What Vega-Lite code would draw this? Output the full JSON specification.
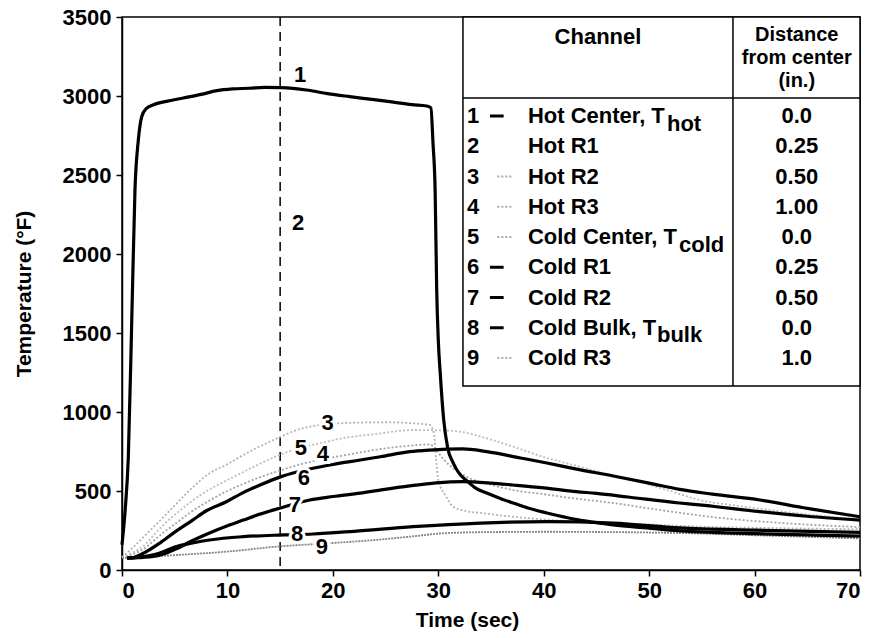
{
  "$schema": "https://vega.github.io/schema/vega-lite/v6.json",
  "width": 738,
  "height": 553,
  "autosize": {"type": "none"},
  "padding": {"left": 122, "top": 17, "right": 14, "bottom": 68},
  "background": "white",
  "config": {
    "font": "Liberation Sans",
    "view": {"stroke": "black", "strokeWidth": 1.5},
    "axis": {
      "grid": false,
      "domainColor": "black",
      "domainWidth": 1.5,
      "tickColor": "black",
      "tickWidth": 1.5,
      "tickSize": 6,
      "labelFont": "Liberation Sans",
      "labelFontSize": 22,
      "labelFontWeight": "bold",
      "labelColor": "black",
      "titleFont": "Liberation Sans",
      "titleFontSize": 21,
      "titleFontWeight": "bold",
      "titleColor": "black"
    }
  },
  "datasets": {
    "one": [{}],
    "curves": [
      {"ch":"1","t":0,"T":160},{"ch":"1","t":0.3,"T":380},{"ch":"1","t":0.6,"T":717},{"ch":"1","t":0.92,"T":1563},{"ch":"1","t":1.23,"T":2405},{"ch":"1","t":1.55,"T":2722},{"ch":"1","t":1.87,"T":2869},{"ch":"1","t":2.3,"T":2920},{"ch":"1","t":3,"T":2945},{"ch":"1","t":4.5,"T":2970},{"ch":"1","t":5.8,"T":2987},{"ch":"1","t":7.5,"T":3010},{"ch":"1","t":9,"T":3034},{"ch":"1","t":10.5,"T":3045},{"ch":"1","t":12.1,"T":3049},{"ch":"1","t":13.5,"T":3055},{"ch":"1","t":15.1,"T":3053},{"ch":"1","t":17.5,"T":3038},{"ch":"1","t":19.5,"T":3015},{"ch":"1","t":21.6,"T":2996},{"ch":"1","t":23.5,"T":2980},{"ch":"1","t":25.4,"T":2964},{"ch":"1","t":27.5,"T":2945},{"ch":"1","t":28.9,"T":2937},{"ch":"1","t":29.3,"T":2925},{"ch":"1","t":29.5,"T":2700},{"ch":"1","t":29.7,"T":2405},{"ch":"1","t":29.85,"T":1772},{"ch":"1","t":30,"T":1456},{"ch":"1","t":30.2,"T":1230},{"ch":"1","t":30.5,"T":960},{"ch":"1","t":30.9,"T":770},{"ch":"1","t":31.4,"T":680},{"ch":"1","t":32,"T":610},{"ch":"1","t":32.7,"T":565},{"ch":"1","t":33.5,"T":520},{"ch":"1","t":34.6,"T":487},{"ch":"1","t":36,"T":450},{"ch":"1","t":37.1,"T":424},{"ch":"1","t":38.5,"T":392},{"ch":"1","t":40.3,"T":361},{"ch":"1","t":42,"T":335},{"ch":"1","t":43.4,"T":316},{"ch":"1","t":45,"T":300},{"ch":"1","t":46.6,"T":285},{"ch":"1","t":49.8,"T":266},{"ch":"1","t":52.9,"T":248},{"ch":"1","t":56,"T":238},{"ch":"1","t":60,"T":230},{"ch":"1","t":65,"T":222},{"ch":"1","t":70,"T":215},
      {"ch":"3","t":0,"T":80},{"ch":"3","t":1,"T":140},{"ch":"3","t":2.7,"T":253},{"ch":"3","t":4,"T":340},{"ch":"3","t":5.2,"T":422},{"ch":"3","t":6.5,"T":510},{"ch":"3","t":8.3,"T":612},{"ch":"3","t":10,"T":670},{"ch":"3","t":11.5,"T":728},{"ch":"3","t":13,"T":780},{"ch":"3","t":14.7,"T":833},{"ch":"3","t":16.6,"T":886},{"ch":"3","t":18.5,"T":915},{"ch":"3","t":21,"T":930},{"ch":"3","t":25,"T":935},{"ch":"3","t":27.3,"T":930},{"ch":"3","t":29.2,"T":918},{"ch":"3","t":29.6,"T":860},{"ch":"3","t":29.8,"T":700},{"ch":"3","t":30,"T":570},{"ch":"3","t":30.7,"T":470},{"ch":"3","t":31.4,"T":401},{"ch":"3","t":32.5,"T":375},{"ch":"3","t":34,"T":361},{"ch":"3","t":37.1,"T":337},{"ch":"3","t":40,"T":320},{"ch":"3","t":45,"T":300},{"ch":"3","t":50,"T":288},{"ch":"3","t":55,"T":274},{"ch":"3","t":62,"T":265},{"ch":"3","t":70,"T":258},
      {"ch":"4","t":0,"T":78},{"ch":"4","t":1,"T":100},{"ch":"4","t":2,"T":130},{"ch":"4","t":3,"T":185},{"ch":"4","t":4,"T":240},{"ch":"4","t":5.2,"T":300},{"ch":"4","t":6.5,"T":365},{"ch":"4","t":8.3,"T":440},{"ch":"4","t":10,"T":500},{"ch":"4","t":11.5,"T":545},{"ch":"4","t":13,"T":585},{"ch":"4","t":15,"T":630},{"ch":"4","t":17,"T":670},{"ch":"4","t":19,"T":700},{"ch":"4","t":21,"T":725},{"ch":"4","t":24,"T":760},{"ch":"4","t":27,"T":785},{"ch":"4","t":29.2,"T":795},{"ch":"4","t":29.8,"T":760},{"ch":"4","t":30.5,"T":700},{"ch":"4","t":31.5,"T":640},{"ch":"4","t":33,"T":580},{"ch":"4","t":35,"T":540},{"ch":"4","t":37.1,"T":506},{"ch":"4","t":40,"T":480},{"ch":"4","t":43,"T":452},{"ch":"4","t":46.6,"T":424},{"ch":"4","t":50,"T":390},{"ch":"4","t":53,"T":361},{"ch":"4","t":56,"T":335},{"ch":"4","t":62,"T":300},{"ch":"4","t":70,"T":272},
      {"ch":"5","t":0,"T":80},{"ch":"5","t":1,"T":110},{"ch":"5","t":2,"T":150},{"ch":"5","t":3,"T":220},{"ch":"5","t":4,"T":290},{"ch":"5","t":5.2,"T":360},{"ch":"5","t":6.5,"T":430},{"ch":"5","t":8.3,"T":510},{"ch":"5","t":10,"T":570},{"ch":"5","t":11.5,"T":620},{"ch":"5","t":13,"T":670},{"ch":"5","t":15,"T":730},{"ch":"5","t":17,"T":775},{"ch":"5","t":19,"T":805},{"ch":"5","t":21,"T":835},{"ch":"5","t":24,"T":860},{"ch":"5","t":27.6,"T":886},{"ch":"5","t":30,"T":884},{"ch":"5","t":32,"T":876},{"ch":"5","t":34.5,"T":835},{"ch":"5","t":37.1,"T":781},{"ch":"5","t":40,"T":715},{"ch":"5","t":43.4,"T":654},{"ch":"5","t":47,"T":590},{"ch":"5","t":50,"T":540},{"ch":"5","t":52,"T":500},{"ch":"5","t":54.8,"T":443},{"ch":"5","t":58,"T":410},{"ch":"5","t":62,"T":375},{"ch":"5","t":66,"T":345},{"ch":"5","t":70,"T":320},
      {"ch":"6","t":0.5,"T":75},{"ch":"6","t":1,"T":78},{"ch":"6","t":2,"T":105},{"ch":"6","t":3.6,"T":171},{"ch":"6","t":5,"T":240},{"ch":"6","t":6.7,"T":316},{"ch":"6","t":8,"T":375},{"ch":"6","t":9.9,"T":432},{"ch":"6","t":11.5,"T":490},{"ch":"6","t":13.1,"T":538},{"ch":"6","t":15.1,"T":591},{"ch":"6","t":17.8,"T":639},{"ch":"6","t":20,"T":668},{"ch":"6","t":22.6,"T":696},{"ch":"6","t":24.5,"T":717},{"ch":"6","t":27.3,"T":749},{"ch":"6","t":29.2,"T":759},{"ch":"6","t":32.3,"T":766},{"ch":"6","t":34.6,"T":749},{"ch":"6","t":37.8,"T":709},{"ch":"6","t":40.3,"T":677},{"ch":"6","t":43,"T":640},{"ch":"6","t":46.6,"T":595},{"ch":"6","t":50,"T":550},{"ch":"6","t":52.9,"T":510},{"ch":"6","t":56,"T":480},{"ch":"6","t":60.5,"T":443},{"ch":"6","t":65,"T":390},{"ch":"6","t":70,"T":337},
      {"ch":"7","t":0.5,"T":75},{"ch":"7","t":1,"T":77},{"ch":"7","t":2,"T":80},{"ch":"7","t":3.5,"T":92},{"ch":"7","t":5.2,"T":135},{"ch":"7","t":6.5,"T":180},{"ch":"7","t":8.3,"T":234},{"ch":"7","t":10,"T":280},{"ch":"7","t":11.5,"T":316},{"ch":"7","t":13,"T":352},{"ch":"7","t":15,"T":392},{"ch":"7","t":17.8,"T":443},{"ch":"7","t":20,"T":465},{"ch":"7","t":22.6,"T":487},{"ch":"7","t":24.5,"T":506},{"ch":"7","t":27.3,"T":532},{"ch":"7","t":29.8,"T":551},{"ch":"7","t":32.3,"T":559},{"ch":"7","t":35,"T":550},{"ch":"7","t":37.1,"T":538},{"ch":"7","t":40,"T":520},{"ch":"7","t":43.1,"T":496},{"ch":"7","t":45,"T":485},{"ch":"7","t":48,"T":462},{"ch":"7","t":52.9,"T":424},{"ch":"7","t":55,"T":411},{"ch":"7","t":60.5,"T":369},{"ch":"7","t":65,"T":340},{"ch":"7","t":70,"T":316},
      {"ch":"8","t":0.5,"T":75},{"ch":"8","t":1.5,"T":80},{"ch":"8","t":2.5,"T":90},{"ch":"8","t":3.6,"T":108},{"ch":"8","t":5,"T":145},{"ch":"8","t":6.7,"T":171},{"ch":"8","t":8.3,"T":190},{"ch":"8","t":11.5,"T":211},{"ch":"8","t":15.3,"T":222},{"ch":"8","t":18.1,"T":228},{"ch":"8","t":22,"T":245},{"ch":"8","t":27.6,"T":274},{"ch":"8","t":34,"T":297},{"ch":"8","t":40.3,"T":306},{"ch":"8","t":46.6,"T":297},{"ch":"8","t":52.9,"T":266},{"ch":"8","t":60,"T":252},{"ch":"8","t":70,"T":238},
      {"ch":"9","t":0,"T":76},{"ch":"9","t":2,"T":82},{"ch":"9","t":5.2,"T":95},{"ch":"9","t":9.9,"T":116},{"ch":"9","t":14.7,"T":148},{"ch":"9","t":20,"T":171},{"ch":"9","t":24,"T":190},{"ch":"9","t":27.3,"T":211},{"ch":"9","t":30.8,"T":234},{"ch":"9","t":35,"T":240},{"ch":"9","t":40.3,"T":242},{"ch":"9","t":46,"T":240},{"ch":"9","t":52.9,"T":234},{"ch":"9","t":60,"T":220},{"ch":"9","t":70,"T":200}
    ],
    "labels": [
      {"lab":"1","t":16.9,"T":3133},
      {"lab":"2","t":16.7,"T":2196},
      {"lab":"3","t":19.5,"T":930},
      {"lab":"5","t":16.96,"T":772},
      {"lab":"4","t":19.06,"T":734},
      {"lab":"6","t":17.26,"T":582},
      {"lab":"7","t":16.4,"T":411},
      {"lab":"8","t":16.6,"T":228},
      {"lab":"9","t":18.97,"T":146}
    ],
    "table": [
      {"num":"1","name":"Hot Center, T","dist":"0.0","row":1},
      {"num":"2","name":"Hot R1","dist":"0.25","row":2},
      {"num":"3","name":"Hot R2","dist":"0.50","row":3},
      {"num":"4","name":"Hot R3","dist":"1.00","row":4},
      {"num":"5","name":"Cold Center, T","dist":"0.0","row":5},
      {"num":"6","name":"Cold R1","dist":"0.25","row":6},
      {"num":"7","name":"Cold R2","dist":"0.50","row":7},
      {"num":"8","name":"Cold Bulk, T","dist":"0.0","row":8},
      {"num":"9","name":"Cold R3","dist":"1.0","row":9}
    ]
  },
  "layer": [
    {
      "layer": [
        {
          "data": {"name": "one"},
          "mark": {"type": "rule", "color": "black", "strokeWidth": 1.5, "strokeDash": [9, 6]},
          "encoding": {"x": {"datum": 15, "type": "quantitative", "scale": {"domain": [0, 70], "nice": false}}}
        },
        {
          "data": {"name": "curves"},
          "transform": [{"filter": "datum.ch=='3' || datum.ch=='4' || datum.ch=='5' || datum.ch=='9'"}],
          "mark": {"type": "line", "strokeWidth": 1.8, "interpolate": "monotone"},
          "encoding": {
            "x": {"field": "t", "type": "quantitative", "scale": {"domain": [0, 70], "nice": false},
                  "axis": {"values": [0,10,20,30,40,50,60,70], "title": "Time (sec)", "titlePadding": 8, "titleX": 345, "labelPadding": 4}},
            "y": {"field": "T", "type": "quantitative", "scale": {"domain": [0, 3500], "nice": false},
                  "axis": {"values": [0,500,1000,1500,2000,2500,3000,3500], "format": "d", "title": "Temperature (°F)", "titlePadding": 28, "labelPadding": 5}},
            "detail": {"field": "ch"},
            "color": {"field": "ch", "type": "nominal", "legend": null,
                      "scale": {"domain": ["3","4","5","9"], "range": ["#b4b4b4", "#a4a4a4", "#bdbdbd", "#858585"]}},
            "strokeDash": {"field": "ch", "type": "nominal", "legend": null,
                      "scale": {"domain": ["3","4","5","9"], "range": [[2,2],[2,2],[2,2],[2,1]]}}
          }
        },
        {
          "data": {"name": "curves"},
          "transform": [{"filter": "datum.ch=='1' || datum.ch=='6' || datum.ch=='7' || datum.ch=='8'"}],
          "mark": {"type": "line", "strokeWidth": 3.2, "color": "black", "interpolate": "monotone"},
          "encoding": {
            "x": {"field": "t", "type": "quantitative"},
            "y": {"field": "T", "type": "quantitative"},
            "detail": {"field": "ch"}
          }
        },
        {
          "data": {"name": "labels"},
          "mark": {"type": "text", "fontSize": 22, "fontWeight": "bold", "font": "Liberation Sans", "stroke": "white", "strokeWidth": 6, "fill": "white"},
          "encoding": {
            "x": {"field": "t", "type": "quantitative"},
            "y": {"field": "T", "type": "quantitative"},
            "text": {"field": "lab"}
          }
        },
        {
          "data": {"name": "labels"},
          "mark": {"type": "text", "fontSize": 22, "fontWeight": "bold", "font": "Liberation Sans", "color": "black"},
          "encoding": {
            "x": {"field": "t", "type": "quantitative"},
            "y": {"field": "T", "type": "quantitative"},
            "text": {"field": "lab"}
          }
        }
      ]
    },
    {
      "data": {"name": "table"},
      "layer": [
        {
          "data": {"name": "one"},
          "mark": {"type": "rect", "fill": "white", "stroke": "black", "strokeWidth": 1.5},
          "encoding": {
            "x": {"datum": 32.34, "type": "quantitative"},
            "x2": {"datum": 70},
            "y": {"datum": -2.273, "type": "quantitative", "axis": null, "scale": {"domain": [-2.273, 16.008], "reverse": true, "nice": false, "zero": false}},
            "y2": {"datum": 9.925}
          }
        },
        {
          "data": {"name": "one"},
          "mark": {"type": "rule", "color": "black", "strokeWidth": 1.5},
          "encoding": {
            "x": {"datum": 57.95, "type": "quantitative"},
            "y": {"datum": -2.273, "type": "quantitative", "axis": null},
            "y2": {"datum": 9.925}
          }
        },
        {
          "data": {"name": "one"},
          "mark": {"type": "rule", "color": "black", "strokeWidth": 1.5},
          "encoding": {
            "x": {"datum": 32.34, "type": "quantitative"},
            "x2": {"datum": 70},
            "y": {"datum": 0.405, "type": "quantitative", "axis": null}
          }
        },
        {
          "data": {"name": "one"},
          "mark": {"type": "text", "fontSize": 22, "fontWeight": "bold", "font": "Liberation Sans", "color": "black", "baseline": "middle", "text": "Channel"},
          "encoding": {"x": {"datum": 45.15, "type": "quantitative"}, "y": {"datum": -1.612, "type": "quantitative", "axis": null}}
        },
        {
          "data": {"name": "one"},
          "mark": {"type": "text", "fontSize": 20, "fontWeight": "bold", "font": "Liberation Sans", "color": "black", "baseline": "middle", "text": "Distance"},
          "encoding": {"x": {"datum": 64.0, "type": "quantitative"}, "y": {"datum": -1.678, "type": "quantitative", "axis": null}}
        },
        {
          "data": {"name": "one"},
          "mark": {"type": "text", "fontSize": 20, "fontWeight": "bold", "font": "Liberation Sans", "color": "black", "baseline": "middle", "text": "from center"},
          "encoding": {"x": {"datum": 64.0, "type": "quantitative"}, "y": {"datum": -0.918, "type": "quantitative", "axis": null}}
        },
        {
          "data": {"name": "one"},
          "mark": {"type": "text", "fontSize": 20, "fontWeight": "bold", "font": "Liberation Sans", "color": "black", "baseline": "middle", "text": "(in.)"},
          "encoding": {"x": {"datum": 64.0, "type": "quantitative"}, "y": {"datum": -0.157, "type": "quantitative", "axis": null}}
        },
        {
          "mark": {"type": "text", "fontSize": 22, "fontWeight": "bold", "font": "Liberation Sans", "color": "black", "baseline": "middle", "align": "center"},
          "encoding": {"x": {"datum": 33.3, "type": "quantitative"}, "y": {"field": "row", "type": "quantitative", "axis": null}, "text": {"field": "num"}}
        },
        {
          "mark": {"type": "text", "fontSize": 22, "fontWeight": "bold", "font": "Liberation Sans", "color": "black", "baseline": "middle", "align": "left"},
          "encoding": {"x": {"datum": 38.5, "type": "quantitative"}, "y": {"field": "row", "type": "quantitative", "axis": null}, "text": {"field": "name"}}
        },
        {
          "mark": {"type": "text", "fontSize": 22, "fontWeight": "bold", "font": "Liberation Sans", "color": "black", "baseline": "middle", "align": "center"},
          "encoding": {"x": {"datum": 64.0, "type": "quantitative"}, "y": {"field": "row", "type": "quantitative", "axis": null}, "text": {"field": "dist"}}
        },
        {
          "transform": [{"filter": "datum.num=='1' || datum.num=='6' || datum.num=='7' || datum.num=='8'"}],
          "mark": {"type": "rule", "color": "black", "strokeWidth": 3},
          "encoding": {"x": {"datum": 34.9, "type": "quantitative"}, "x2": {"datum": 36.2}, "y": {"field": "row", "type": "quantitative", "axis": null}}
        },
        {
          "transform": [{"filter": "datum.num=='3' || datum.num=='4' || datum.num=='5' || datum.num=='9'"}],
          "mark": {"type": "rule", "color": "#aaaaaa", "strokeWidth": 1.8, "strokeDash": [2, 2]},
          "encoding": {"x": {"datum": 35.6, "type": "quantitative"}, "x2": {"datum": 37.0}, "y": {"field": "row", "type": "quantitative", "axis": null}}
        },
        {
          "data": {"name": "one"},
          "mark": {"type": "text", "fontSize": 22, "fontWeight": "bold", "font": "Liberation Sans", "color": "black", "baseline": "middle", "align": "left", "text": "hot"},
          "encoding": {"x": {"datum": 51.69, "type": "quantitative"}, "y": {"datum": 1.25, "type": "quantitative", "axis": null}}
        },
        {
          "data": {"name": "one"},
          "mark": {"type": "text", "fontSize": 22, "fontWeight": "bold", "font": "Liberation Sans", "color": "black", "baseline": "middle", "align": "left", "text": "cold"},
          "encoding": {"x": {"datum": 52.83, "type": "quantitative"}, "y": {"datum": 5.25, "type": "quantitative", "axis": null}}
        },
        {
          "data": {"name": "one"},
          "mark": {"type": "text", "fontSize": 22, "fontWeight": "bold", "font": "Liberation Sans", "color": "black", "baseline": "middle", "align": "left", "text": "bulk"},
          "encoding": {"x": {"datum": 50.74, "type": "quantitative"}, "y": {"datum": 8.25, "type": "quantitative", "axis": null}}
        }
      ]
    }
  ],
  "resolve": {"scale": {"y": "independent"}}
}
